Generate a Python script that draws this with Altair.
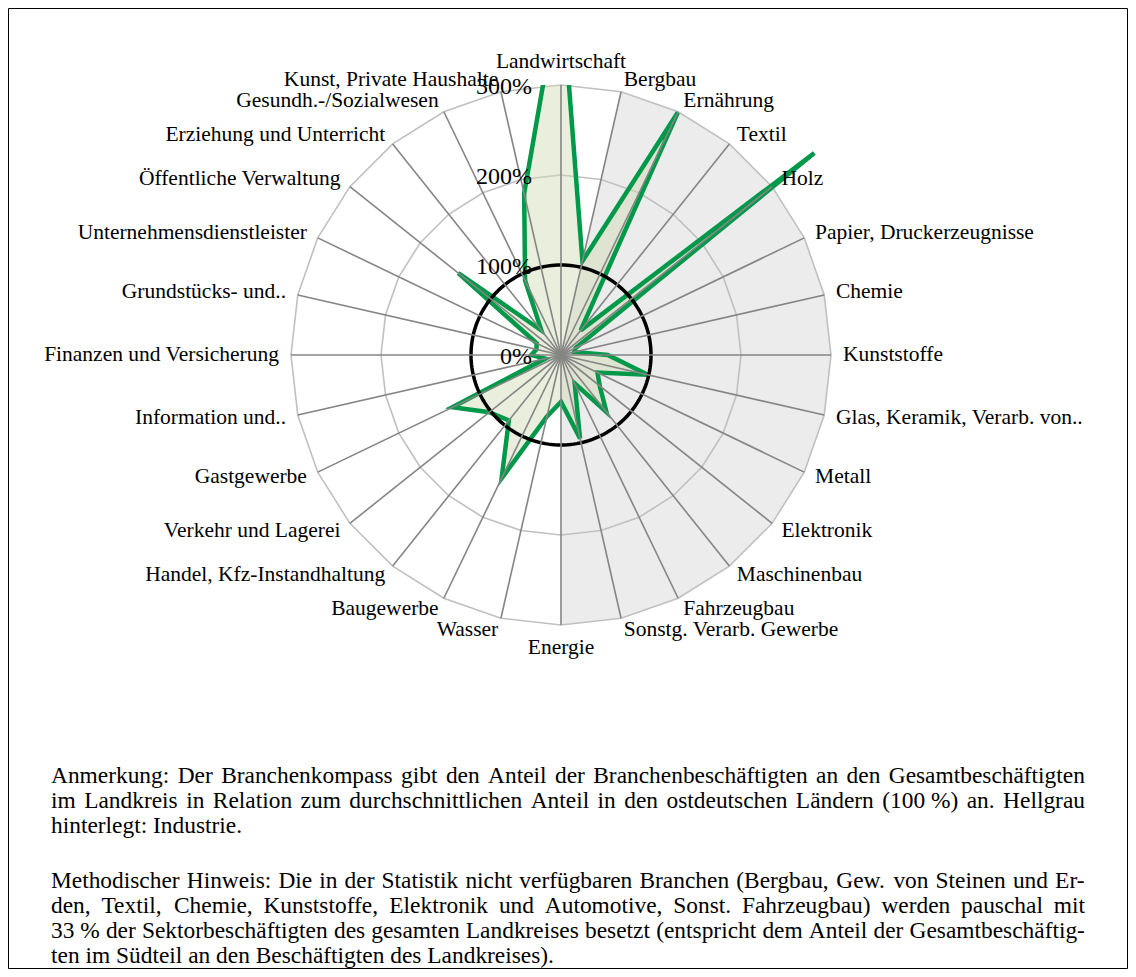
import math
import altair as alt
import pandas as pd

# ---------------- data ----------------
categories = [
    "Landwirtschaft", "Bergbau", "Ernährung", "Textil", "Holz",
    "Papier, Druckerzeugnisse", "Chemie", "Kunststoffe",
    "Glas, Keramik, Verarb. von..", "Metall", "Elektronik", "Maschinenbau",
    "Fahrzeugbau", "Sonstg. Verarb. Gewerbe", "Energie", "Wasser",
    "Baugewerbe", "Handel, Kfz-Instandhaltung", "Verkehr und Lagerei",
    "Gastgewerbe", "Information und..", "Finanzen und Versicherung",
    "Grundstücks- und..", "Unternehmensdienstleister",
    "Öffentliche Verwaltung", "Erziehung und Unterricht",
    "Gesundh.-/Sozialwesen", "Kunst, Private Haushalte",
]
values = [415, 107, 299, 35, 360, 18, 15, 52, 99, 45, 55, 81, 35, 95,
          52, 70, 152, 93, 102, 134, 18, 33, 28, 30, 146, 35, 92, 184]
industry_first, industry_last = 1, 14
ring_levels = [200, 300]
ref_level = 100
tick_values = [0, 100, 200, 300]
tick_labels = ["0%", "100%", "200%", "300%"]

note_lines = [
    ("Anmerkung: Der Branchenkompass gibt den Anteil der Branchenbeschäftigten an den Gesamtbeschäftigten", True),
    ("im Landkreis in Relation zum durchschnittlichen Anteil in den ostdeutschen Ländern (100\u00a0%) an. Hellgrau", True),
    ("hinterlegt: Industrie.", False),
    ("Methodischer Hinweis: Die in der Statistik nicht verfügbaren Branchen (Bergbau, Gew. von Steinen und Er-", True),
    ("den, Textil, Chemie, Kunststoffe, Elektronik und Automotive, Sonst. Fahrzeugbau) werden pauschal mit", True),
    ("33\u00a0% der Sektorbeschäftigten des gesamten Landkreises besetzt (entspricht dem Anteil der Gesamtbeschäftig-", True),
    ("ten im Südteil an den Beschäftigten des Landkreises).", False),
]
note_baselines = [783, 808, 833, 888, 913, 938, 963]

# ---------------- layout ----------------
FONT = "Liberation Serif"
PAGE_CX, PAGE_CY = 561, 355
PXU = 0.9                 # pixels per percent
TOP = 300
W = 1120
SVG_H = 961
PAD_TOP = int(round(PAGE_CY - TOP * PXU)) - 8
H = SVG_H - PAD_TOP
XMIN = (8 - PAGE_CX) / PXU
XMAX = XMIN + W / PXU
YMAX = TOP
YMIN = YMAX - H / PXU
LABEL_R = 282 / PXU
N = len(categories)

xs = alt.Scale(domain=[XMIN, XMAX], nice=False, zero=False)
ys = alt.Scale(domain=[YMIN, YMAX], nice=False, zero=False)


def X(f="x"):
    return alt.X(f"{f}:Q", scale=xs, axis=None)


def Y(f="y"):
    return alt.Y(f"{f}:Q", scale=ys, axis=None)


def ux(px):
    return (px - PAGE_CX) / PXU


def uy(py):
    return (PAGE_CY - py) / PXU


def ang(i):
    return 2 * math.pi * i / N


# ---------------- background wedge ----------------
wedge = [{"o": 0, "x": 0.0, "y": 0.0}]
for k, i in enumerate(range(industry_first, industry_last + 1)):
    wedge.append({"o": k + 1, "x": TOP * math.sin(ang(i)), "y": TOP * math.cos(ang(i))})
wedge_c = alt.Chart(pd.DataFrame(wedge)).mark_line(
    interpolate="linear-closed", fill="#ececec", strokeOpacity=0
).encode(x=X(), y=Y(), order="o:Q")

# ---------------- rings ----------------
rings = []
for lvl in ring_levels:
    for i in range(N):
        rings.append({"ring": lvl, "o": i, "x": lvl * math.sin(ang(i)), "y": lvl * math.cos(ang(i))})
rings_c = alt.Chart(pd.DataFrame(rings)).mark_line(
    interpolate="linear-closed", color="#c0c0c0", strokeWidth=1.6
).encode(x=X(), y=Y(), detail="ring:N", order="o:Q")

circ = []
for k in range(180):
    a = 2 * math.pi * k / 180
    circ.append({"o": k, "x": ref_level * math.sin(a), "y": ref_level * math.cos(a)})
circ_c = alt.Chart(pd.DataFrame(circ)).mark_line(
    interpolate="linear-closed", color="black", strokeWidth=3.5
).encode(x=X(), y=Y(), order="o:Q")

# ---------------- spokes ----------------
spokes = pd.DataFrame({
    "x0": [0.0] * N, "y0": [0.0] * N,
    "x1": [TOP * math.sin(ang(i)) for i in range(N)],
    "y1": [TOP * math.cos(ang(i)) for i in range(N)],
})
spokes_c = alt.Chart(spokes).mark_rule(color="#858585", strokeWidth=1.6).encode(
    x=X("x0"), y=Y("y0"), x2="x1:Q", y2="y1:Q"
)

# ---------------- data polygon ----------------
poly = pd.DataFrame({"i": list(range(N)), "cat": categories, "v": values})
poly_base = alt.Chart(poly).transform_calculate(
    x=f"datum.v * sin(2 * PI * datum.i / {N})",
    y=f"datum.v * cos(2 * PI * datum.i / {N})",
)
fill_c = poly_base.mark_line(
    interpolate="linear-closed", fill="#d0d9b1", fillOpacity=0.45, strokeOpacity=0, clip=True
).encode(x=X(), y=Y(), order="i:Q")
line_c = poly_base.mark_line(
    interpolate="linear-closed", color="#00994a", strokeWidth=4.5, clip=True,
    strokeJoin="miter"
).encode(x=X(), y=Y(), order="i:Q")

# ---------------- category labels ----------------
lab_rows = []
for i, c in enumerate(categories):
    if i == 0:
        side = "T"
    elif i == N // 2:
        side = "B"
    elif i < N // 2:
        side = "R"
    else:
        side = "L"
    lab_rows.append({"cat": c, "side": side,
                     "x": LABEL_R * math.sin(ang(i)), "y": LABEL_R * math.cos(ang(i))})
labs = pd.DataFrame(lab_rows)


def lab_layer(side, align, baseline):
    return alt.Chart(labs).transform_filter(f"datum.side == '{side}'").mark_text(
        align=align, baseline=baseline, font=FONT, fontSize=21.5, color="black"
    ).encode(x=X(), y=Y(), text="cat:N")


labels_c = [lab_layer("R", "left", "middle"), lab_layer("L", "right", "middle"),
            lab_layer("T", "center", "bottom"), lab_layer("B", "center", "top")]

# ---------------- tick labels ----------------
ticks = pd.DataFrame({"v": tick_values, "t": tick_labels})
ticks_c = alt.Chart(ticks).transform_calculate(
    x=f"{ux(532)}", y="datum.v - 2.2"
).mark_text(align="right", baseline="middle", font=FONT, fontSize=24, color="black").encode(
    x=X(), y=Y(), text="t:N"
)

# ---------------- notes (justified) ----------------
TW = {" ": 250, "\u00a0": 250, "!": 333, "%": 833, "(": 333, ")": 333, ",": 250, "-": 333,
      ".": 250, "/": 278, ":": 278}
for d in "0123456789":
    TW[d] = 500
for ch, w in zip("ABCDEFGHIJKLMNOPQRSTUVWXYZÄÖÜ",
                 [722, 667, 667, 722, 611, 556, 722, 722, 333, 389, 722, 611, 889, 722, 722,
                  556, 722, 667, 556, 611, 722, 722, 944, 722, 722, 611, 722, 722, 722]):
    TW[ch] = w
for ch, w in zip("abcdefghijklmnopqrstuvwxyzäöüß",
                 [444, 500, 444, 500, 444, 333, 500, 500, 278, 278, 500, 278, 778, 500, 500,
                  500, 500, 333, 389, 278, 500, 500, 722, 500, 500, 444, 444, 500, 500, 500]):
    TW[ch] = w
NFS = 23.4
NOTE_L, NOTE_R = 51, 1085


def tw(s):
    return sum(TW.get(ch, 500) for ch in s) * NFS / 1000


note_rows = []
for (line, just), base in zip(note_lines, note_baselines):
    words = line.split(" ")
    widths = [tw(w) for w in words]
    if just and len(words) > 1:
        gap = (NOTE_R - NOTE_L - sum(widths)) / (len(words) - 1)
    else:
        gap = tw(" ")
    xp = NOTE_L
    for w, wd in zip(words, widths):
        note_rows.append({"t": w, "x": ux(xp), "y": uy(base)})
        xp += wd + gap
notes_c = alt.Chart(pd.DataFrame(note_rows)).mark_text(
    align="left", baseline="alphabetic", font=FONT, fontSize=NFS, color="black"
).encode(x=X(), y=Y(), text="t:N")

# ---------------- frame ----------------
frame = pd.DataFrame({"x": [ux(8.5)], "x2": [ux(1127.5)], "y": [uy(8.5)], "y2": [uy(968.5)]})
frame_c = alt.Chart(frame).mark_rect(fillOpacity=0, stroke="black", strokeWidth=1).encode(
    x=X(), x2="x2:Q", y=Y(), y2="y2:Q"
)

chart = alt.layer(
    wedge_c, rings_c, fill_c, line_c, circ_c, spokes_c, *labels_c, ticks_c, notes_c, frame_c
).properties(
    width=W, height=H,
    padding={"left": 0, "top": PAD_TOP, "right": 0, "bottom": 0},
    autosize=alt.AutoSizeParams(type="none"),
    background="white",
).configure_view(strokeWidth=0)

chart.save("out.html", embed_options={"renderer": "svg", "actions": False})
